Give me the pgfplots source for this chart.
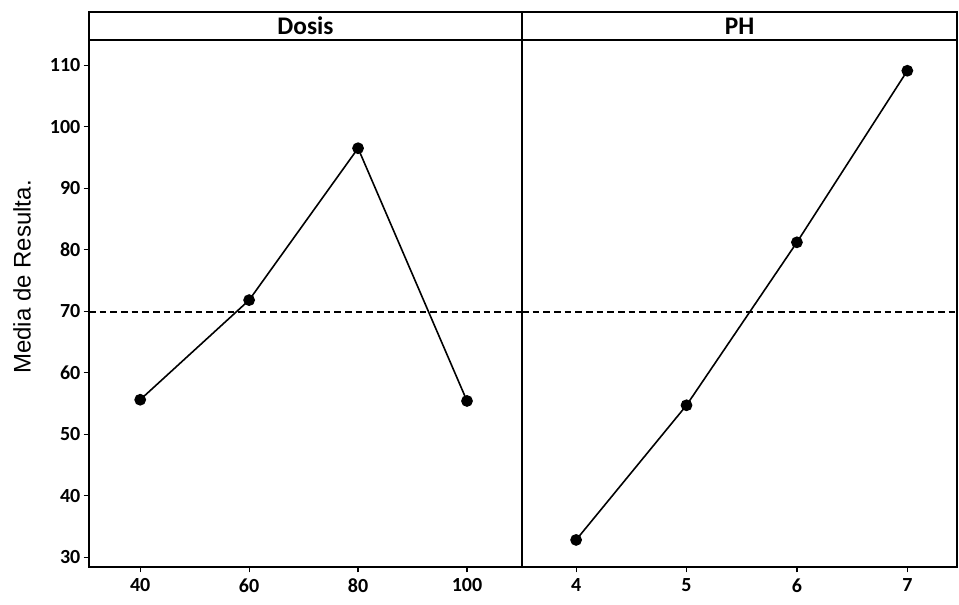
\documentclass[border=0pt]{standalone}
\usepackage{pgfplots}
\pgfplotsset{compat=1.18}
\usepackage{fontspec}
\setmainfont{Carlito}
\setsansfont{Carlito}
\newfontfamily\labelfont{Liberation Sans}
\begin{document}
\begin{tikzpicture}[x=1pt,y=1pt]
\useasboundingbox (-66.75,-28.5) rectangle (652.5,425.25);
\pgfplotsset{
  panel/.style={
    scale only axis, height=395.25pt,
    ymin=28.4, ymax=114.1,
    tick align=outside, xtick pos=bottom, ytick pos=left,
    major tick length=4pt,
    axis line style={line width=1.1pt},
    tick style={line width=0.9pt,black},
    ticklabel style={font=\fontsize{15}{15}\selectfont\bfseries},
    xticklabel style={yshift=-1pt},
    yticklabel style={xshift=1pt},
    /pgf/number format/assume math mode=true,
    clip=false,
  },
  dataline/.style={black, line width=1.2pt, mark=*, mark size=3.8pt, mark options={solid}},
  meanline/.style={black, line width=1.1pt, dash pattern=on 5pt off 3pt},
}
\begin{axis}[panel, at={(0,0)}, anchor=south west, width=324.75pt,
  xmin=30.6, xmax=110.1, xtick={40,60,80,100}, ytick={30,40,...,110}]
\addplot[meanline] coordinates {(30.6,69.9) (110.1,69.9)};
\addplot[dataline] coordinates {(40,55.6) (60,71.8) (80,96.5) (100,55.4)};
\draw[line width=1.1pt] (rel axis cs:0,1) rectangle (rel axis cs:1,1.0531);
\node[font=\fontsize{19}{19}\selectfont\bfseries] at (rel axis cs:0.5,1.0266) {Dosis};
\end{axis}
\begin{axis}[panel, at={(324.75pt,0)}, anchor=south west, width=326.25pt,
  xmin=3.51, xmax=7.45, xtick={4,5,6,7}, ytick=\empty]
\addplot[meanline] coordinates {(3.51,69.9) (7.45,69.9)};
\addplot[dataline] coordinates {(4,32.8) (5,54.7) (6,81.2) (7,109.1)};
\draw[line width=1.1pt] (rel axis cs:0,1) rectangle (rel axis cs:1,1.0531);
\node[font=\fontsize{19}{19}\selectfont\bfseries] at (rel axis cs:0.5,1.0266) {PH};
\end{axis}
\node[rotate=90, font=\labelfont\fontsize{18}{18}\selectfont] at (-50.25,217.5) {Media de Resulta.};
\end{tikzpicture}
\end{document}
